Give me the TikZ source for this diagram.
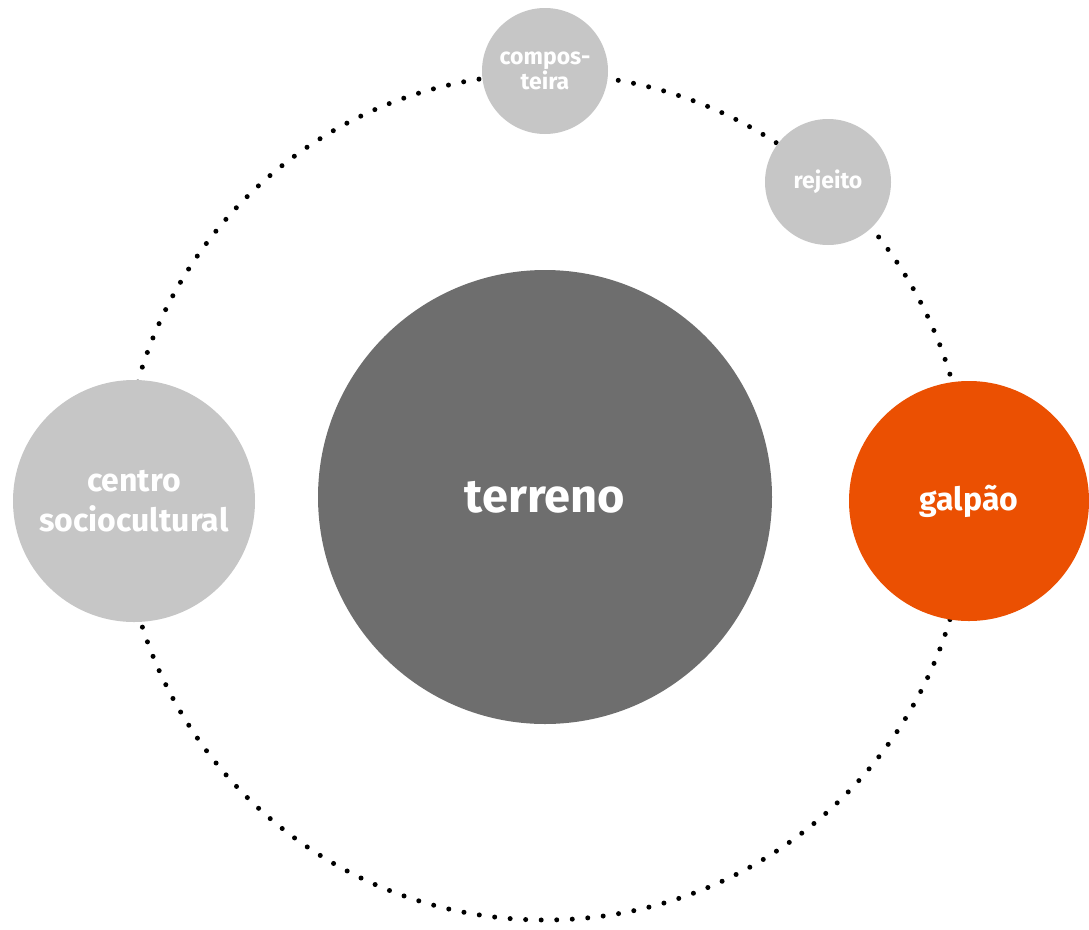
\documentclass[tikz,border=0pt]{standalone}
\usepackage{fontspec}
\setmainfont{Fira Sans}
\definecolor{hubgrey}{HTML}{6E6E6E}
\definecolor{lightgrey}{HTML}{C6C6C6}
\definecolor{accent}{HTML}{EB5002}
\tikzset{
  dotring/.style={line width=5pt, line cap=round, dash pattern=on 0pt off 15.543pt},
  bubble/.style={circle, inner sep=0pt, outer sep=0pt, text=white, align=center},
}
\begin{document}
\begin{tikzpicture}[x=1pt, y=-1pt]
  \useasboundingbox (0,0) rectangle (1089,929);
  % dotted orbit
  \coordinate (hub) at (545,497);
  \draw[dotring] (hub) circle[radius=423];
  % central site
  \node[bubble, fill=hubgrey, minimum size=454pt,
        font=\fontsize{47}{52}\selectfont\bfseries] (terreno) at (545,497) {terreno};
  % satellites on the orbit
  \node[bubble, fill=lightgrey, minimum size=242pt,
        font=\fontsize{32}{40}\selectfont\bfseries] (centro) at (134,501) {centro\\sociocultural};
  \node[bubble, fill=accent, minimum size=240pt,
        font=\fontsize{32}{40}\selectfont\bfseries] (galpao) at (969,501) {galpão};
  \node[bubble, fill=lightgrey, minimum size=126pt,
        font=\fontsize{23}{23}\selectfont\bfseries] (compost) at (545,71) {compos-\\teira};
  \node[bubble, fill=lightgrey, minimum size=126pt,
        font=\fontsize{23}{23}\selectfont\bfseries] (rejeito) at (828,182) {rejeito};
\end{tikzpicture}
\end{document}
